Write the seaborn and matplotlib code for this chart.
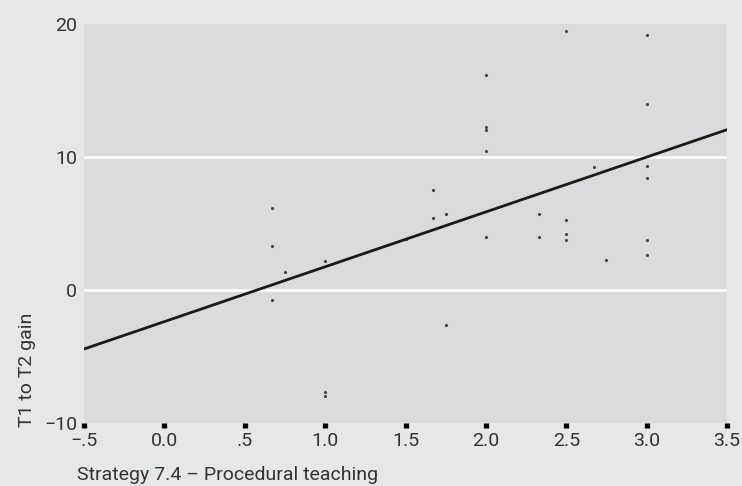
import matplotlib
matplotlib.use("Agg")
import matplotlib.pyplot as plt
import seaborn as sns
import pandas as pd

# Valores
estrategia = [0.67, 0.67, 0.75, 0.67, 1.0, 1.0, 1.0, 1.5, 1.67, 1.67, 1.75, 1.75,
              2.0, 2.0, 2.0, 2.0, 2.0, 2.33, 2.33, 2.5, 2.5, 2.5, 2.5, 2.67, 2.75,
              3.0, 3.0, 3.0, 3.0, 3.0, 3.0]
ganho = [6.2, 3.3, 1.35, -0.75, 2.2, -7.7, -8.0, 3.8, 7.5, 5.4, 5.7, -2.6,
         16.2, 12.25, 12.0, 10.45, 4.0, 5.75, 4.0, 19.45, 5.3, 4.23, 3.76, 9.27, 2.23,
         19.2, 14.0, 9.35, 8.45, 3.76, 2.65]
x_ticks = [-0.5, 0.0, 0.5, 1.0, 1.5, 2.0, 2.5, 3.0, 3.5]
x_labels = ["\u2212.5", "0.0", ".5", "1.0", "1.5", "2.0", "2.5", "3.0", "3.5"]
y_ticks = [-10, 0, 10, 20]
y_labels = ["\u221210", "0", "10", "20"]

df = pd.DataFrame({"Estrategia": estrategia, "Ganho": ganho})

sns.set_style("white", {"axes.facecolor": "#dadbdc", "figure.facecolor": "#e6e7e8",
                        "xtick.bottom": True})
plt.rcParams["font.family"] = ["Roboto", "DejaVu Sans"]

fig = plt.figure(figsize=(7.42, 4.86), dpi=100)
ax = fig.add_axes([84 / 742, 1 - 423 / 486, 643 / 742, 399 / 486])
ax.set_xlim(-0.5, 3.5)
ax.set_ylim(-10, 20)

sns.regplot(
    data=df, x="Estrategia", y="Ganho", ax=ax, ci=None, truncate=False,
    scatter_kws={"s": 5, "color": "#1a1a1a", "linewidths": 0},
    line_kws={"color": "#1a1a1a", "linewidth": 2.0},
)

ax.set_xlim(-0.5, 3.5)
ax.set_ylim(-10, 20)
ax.set_xticks(x_ticks)
ax.set_xticklabels(x_labels)
ax.set_yticks(y_ticks)
ax.set_yticklabels(y_labels)
ax.yaxis.grid(True, color="white", linewidth=1.8)
ax.xaxis.grid(False)
ax.set_axisbelow(True)
# sem linhas de grade nas bordas
linhas = ax.yaxis.get_gridlines()
linhas[0].set_visible(False)
linhas[-1].set_visible(False)
for s in ax.spines.values():
    s.set_visible(False)

ax.tick_params(axis="x", bottom=True, direction="out", length=3.8, width=3.8,
               color="black", pad=3, labelsize=14, labelcolor="#333333")
ax.tick_params(axis="y", left=False, length=0, pad=5, labelsize=14,
               labelcolor="#333333")
ax.set_xlabel("")
ax.set_ylabel("")

fig.text(27 / 742, 1 - 427 / 486, "T1 to T2 gain", rotation=90, ha="center",
         va="bottom", fontsize=14, color="#333333")
fig.text(77 / 742, 1 - 480 / 486, "Strategy 7.4 \u2013 Procedural teaching",
         ha="left", va="baseline", fontsize=14, color="#333333")

fig.savefig("out.png", dpi=100, facecolor=fig.get_facecolor())
